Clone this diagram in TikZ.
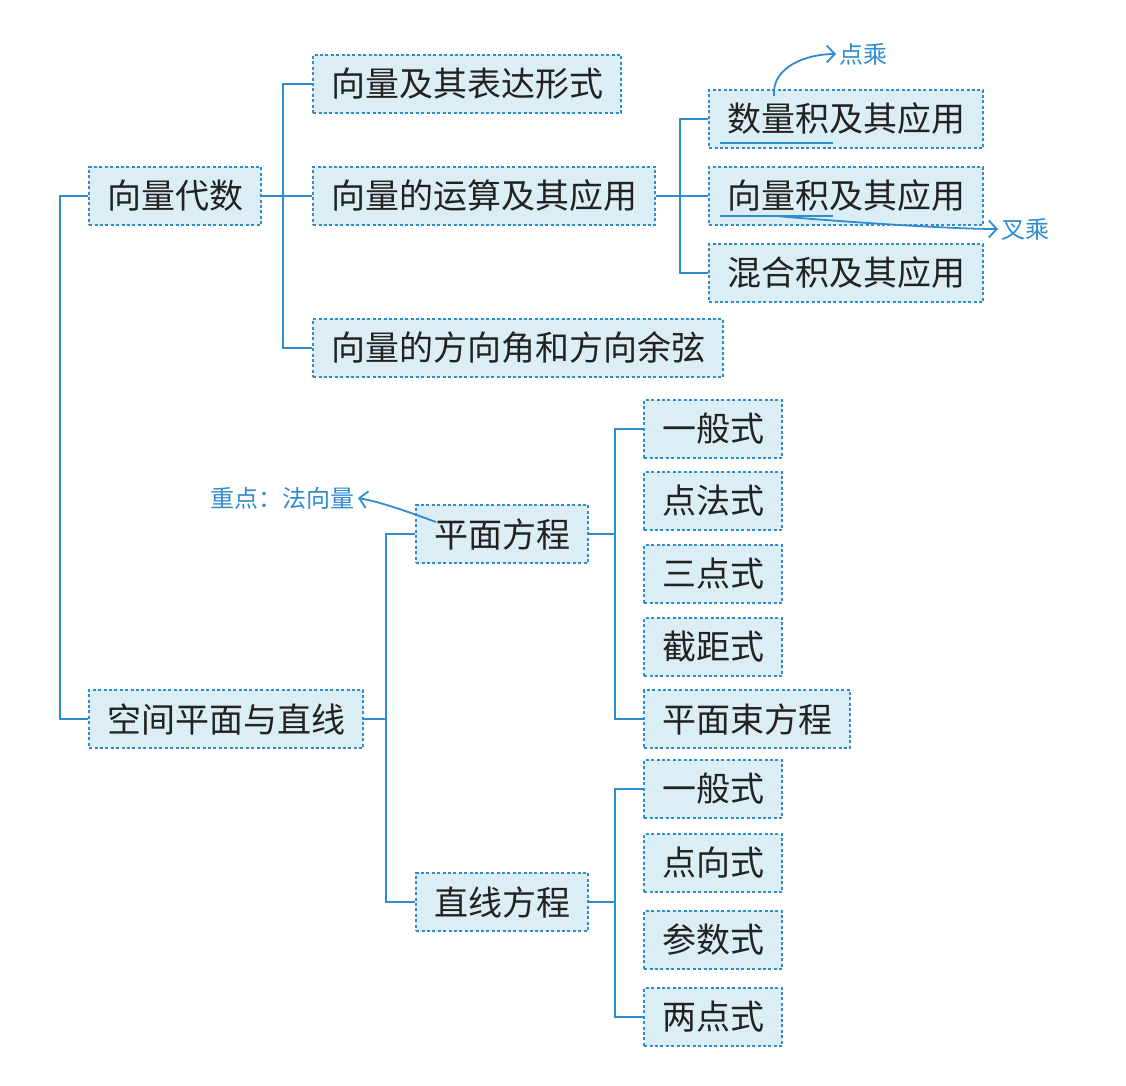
\documentclass[tikz,border=0pt]{standalone}
\usepackage{fontspec}
\setmainfont{Noto Sans CJK SC}
\usepackage{tikz}
\usetikzlibrary{arrows.meta}
\usetikzlibrary{calc}
\definecolor{linkblue}{HTML}{2F8CCF}
\definecolor{boxfill}{HTML}{DCEEF5}
\definecolor{inkgray}{HTML}{222222}

\begin{document}
\begin{tikzpicture}[x=1pt, y=-1pt,
	box/.style={draw=linkblue, line width=2.2pt, dash pattern=on 3pt off 2.4pt, fill=boxfill,
		inner xsep=18pt, minimum height=58pt, anchor=west, text=inkgray,
		font=\fontsize{34}{34}\selectfont},
	link/.style={draw=linkblue, line width=2.8pt},
	note/.style={text=linkblue, font=\fontsize{24}{24}\selectfont},
	hand/.style={draw=linkblue, line width=1.8pt, -{Straight Barb[length=8pt, width=17pt]}}]
\useasboundingbox (0,0) rectangle (1126,1085);
% vector algebra
\node[box] (alg) at (88,196) {向量代数};
\node[box] (expr) at (312,84) {向量及其表达形式};
\node[box] (ops) at (312,196) {向量的运算及其应用};
\node[box] (dir) at (312,348) {向量的方向角和方向余弦};
\node[box] (dotp) at (708,119) {数量积及其应用};
\node[box] (crossp) at (708,196) {向量积及其应用};
\node[box] (mixp) at (708,273) {混合积及其应用};
% planes and lines
\node[box] (space) at (88,719) {空间平面与直线};
\node[box] (plane) at (415,534) {平面方程};
\node[box] (line) at (415,902) {直线方程};
\node[box] (pa) at (643,429) {一般式};
\node[box] (pb) at (643,501) {点法式};
\node[box] (pc) at (643,574) {三点式};
\node[box] (pd) at (643,647) {截距式};
\node[box] (pe) at (643,719) {平面束方程};
\node[box] (la) at (643,789) {一般式};
\node[box] (lb) at (643,863) {点向式};
\node[box] (lc) at (643,940) {参数式};
\node[box] (ld) at (643,1017) {两点式};
% brackets
\coordinate (spine) at (60,450);
\coordinate (b1) at (283,196);
\coordinate (b2) at (680,196);
\coordinate (b3) at (386,719);
\coordinate (b4) at (615,534);
\coordinate (b5) at (615,902);
\draw[link] (alg.west) -| (spine) |- (space.west);
\draw[link] (alg.east) -- (ops.west);
\draw[link] (expr.west) -| (b1) |- (dir.west);
\draw[link] (ops.east) -- (crossp.west);
\draw[link] (dotp.west) -| (b2) |- (mixp.west);
\draw[link] (space.east) -- (b3);
\draw[link] (plane.west) -| (b3) |- (line.west);
\draw[link] (plane.east) -- (b4);
\draw[link] (pa.west) -| (b4) |- (pe.west);
\draw[link] (line.east) -- (b5);
\draw[link] (la.west) -| (b5) |- (ld.west);
% hand notes
\node[note, anchor=west] (dotnote) at (836,54) {点乘};
\node[note, anchor=west] (crossnote) at (998,229) {叉乘};
\node[note, anchor=east] (normnote) at (358,498) {重点：法向量};
\coordinate (u1) at (720,143);
\coordinate (u2) at (833,143);
\coordinate (u3) at (720,216);
\coordinate (u4) at (833,216);
\draw[linkblue, line width=1.6pt] (u1) -- (u2);
\draw[linkblue, line width=1.6pt] (u3) -- (u4);
\draw[hand] (774,96) to[out=95, in=180, looseness=1] (dotnote.west);
\draw[hand] (776,216) to[out=-5, in=180, looseness=0.6] (crossnote.west);
\draw[hand] (436,522) to[out=160, in=-10, looseness=0.8] (normnote.east);
\end{tikzpicture}
\end{document}
